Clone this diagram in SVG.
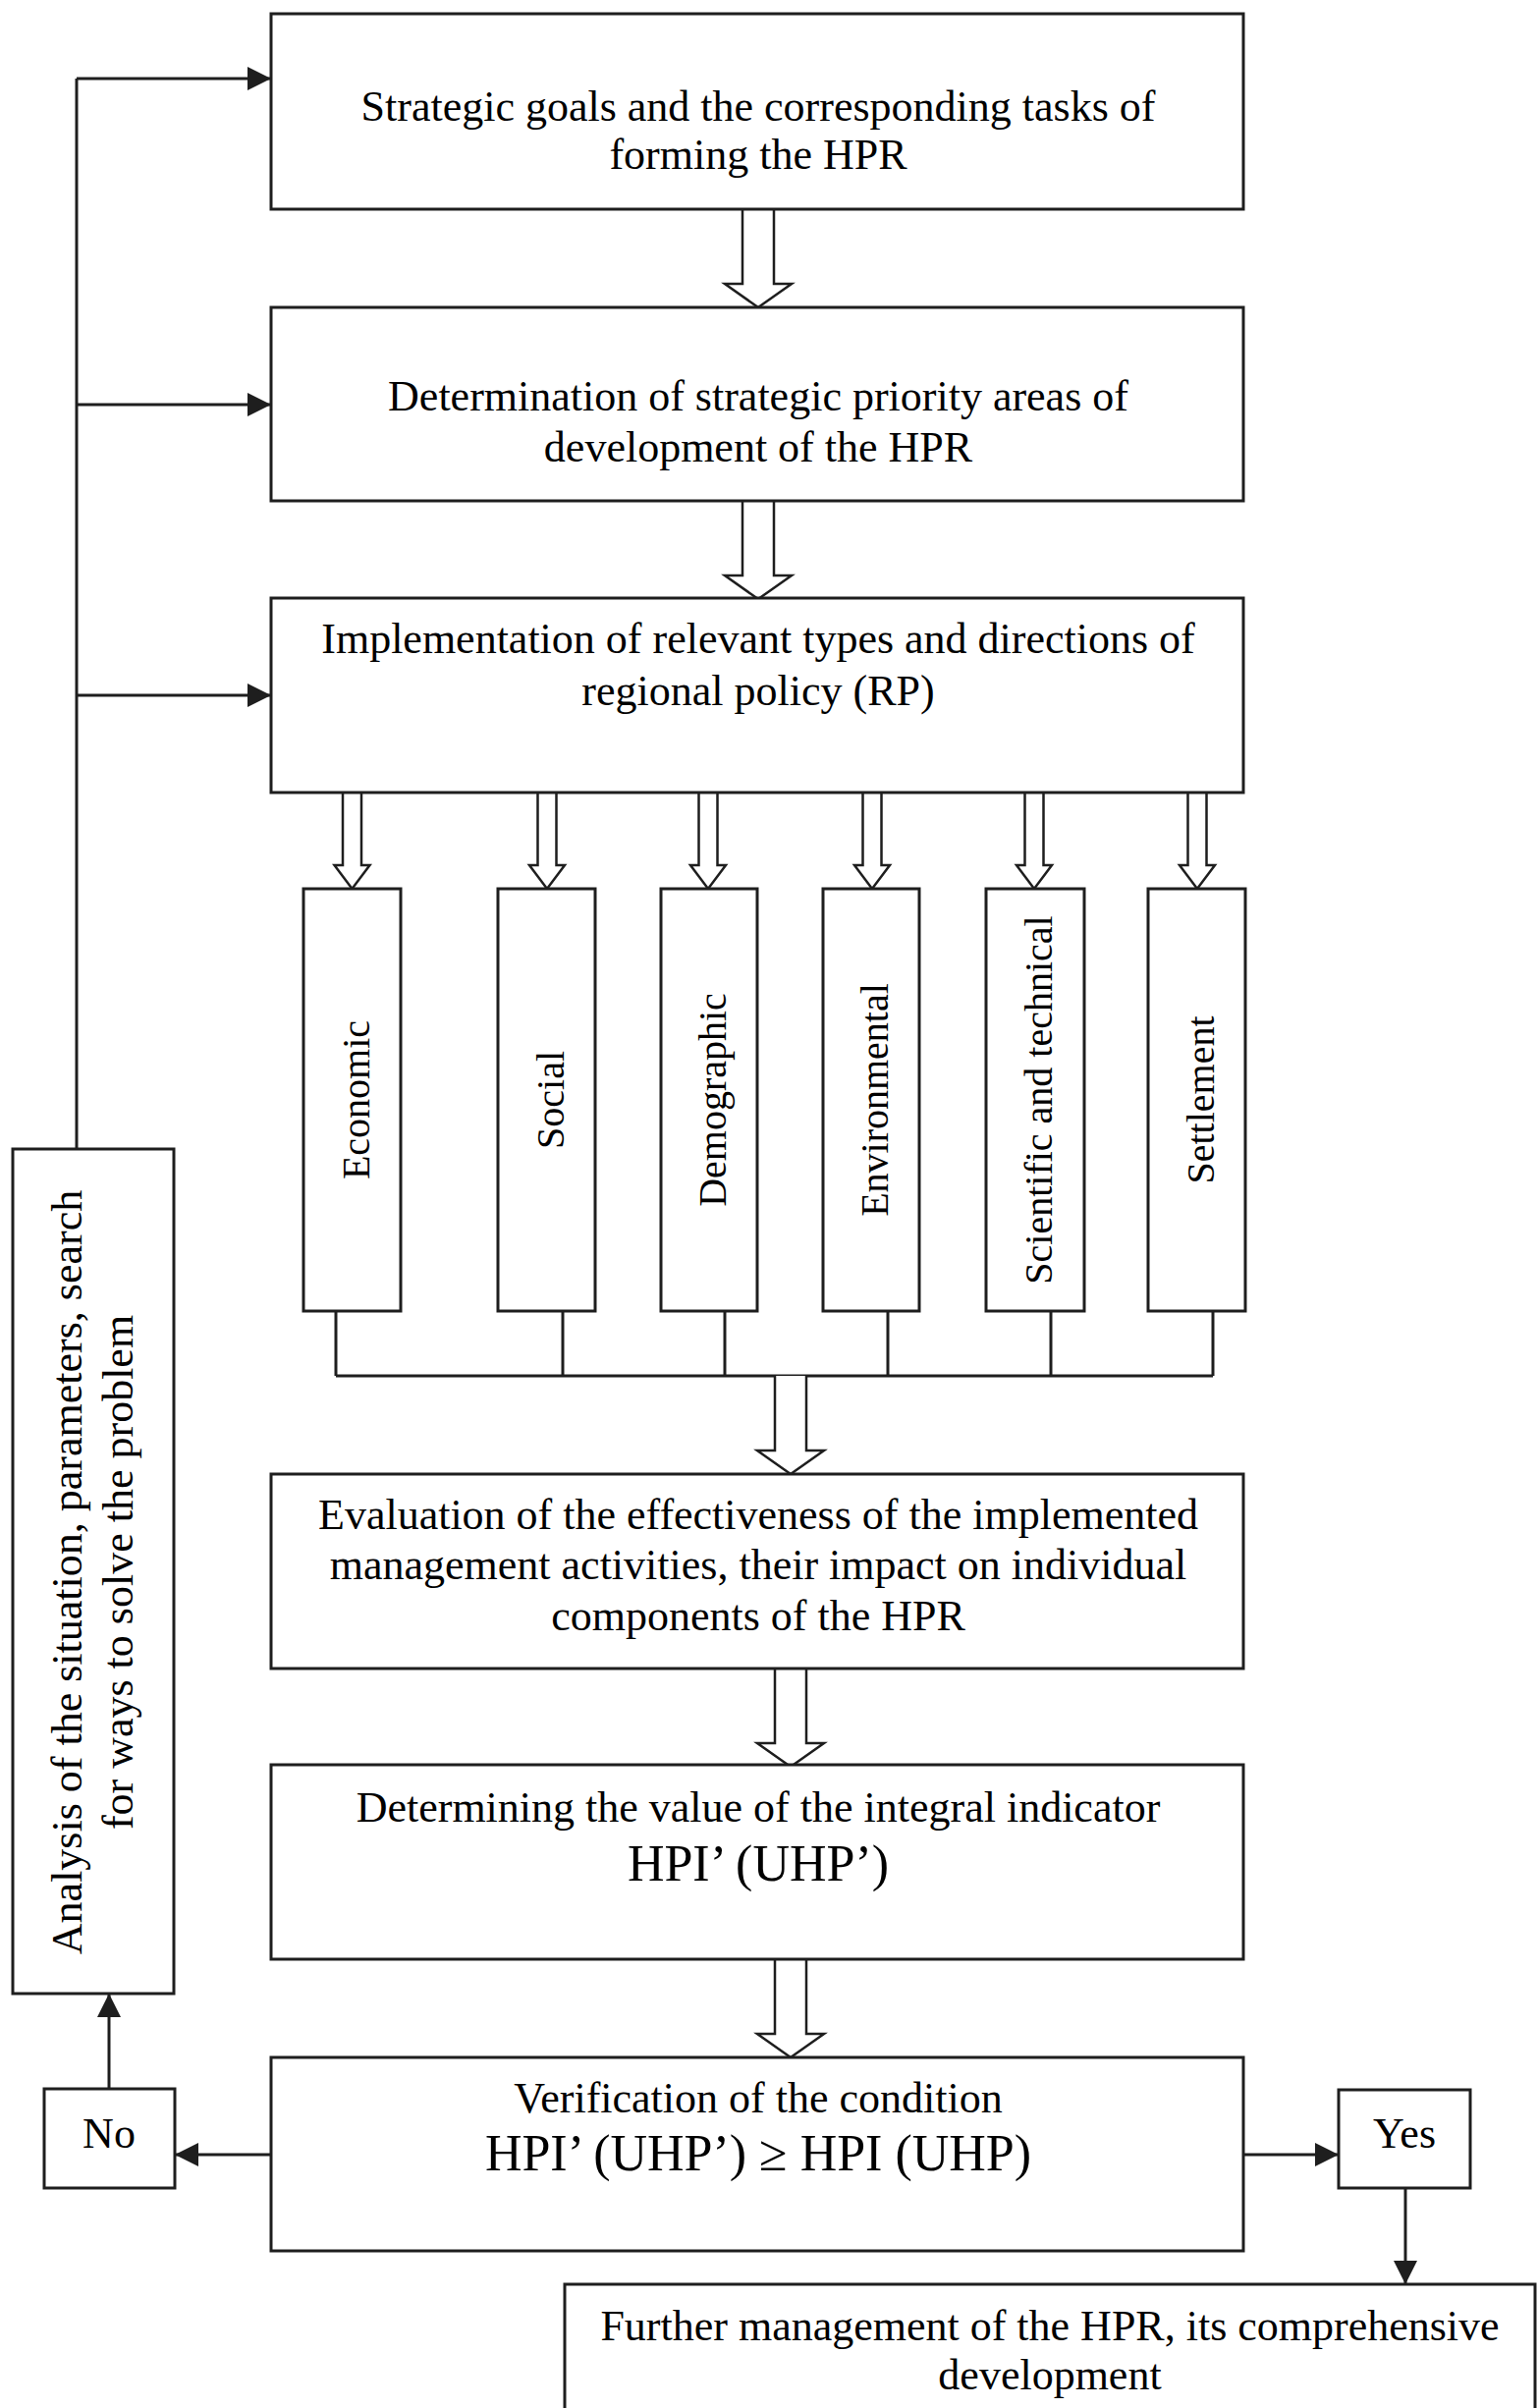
<svg xmlns="http://www.w3.org/2000/svg" xmlns:xlink="http://www.w3.org/1999/xlink" width="1566" height="2452" viewBox="0 0 1566 2452">
<style>
  .box { fill: #ffffff; stroke: #1e1e1e; stroke-width: 3; }
  .line { fill: none; stroke: #1e1e1e; stroke-width: 3; }
  .hollow { fill: #ffffff; stroke: #1e1e1e; stroke-width: 2.5; stroke-linejoin: miter; }
  .t { font-family: "Liberation Serif", "Times New Roman", serif; font-size: 44px; fill: #000; text-anchor: middle; }
  .tv { font-family: "Liberation Serif", "Times New Roman", serif; font-size: 40px; fill: #000; text-anchor: middle; }
  .big { font-size: 52px; }
</style>
<defs>
  <marker id="ah" markerUnits="userSpaceOnUse" markerWidth="24" markerHeight="24" viewBox="0 0 24 24" refX="24" refY="12" orient="auto">
    <path d="M0,0 L24,12 L0,24 z" fill="#1e1e1e"/>
  </marker>
  <path id="hbig" d="M-16,0 L-16,76 L-34,76 L0,100 L34,76 L16,76 L16,0"/>
  <path id="hsmall" d="M-9.5,0 L-9.5,74 L-18,74 L0,98 L18,74 L9.5,74 L9.5,0"/>
</defs>

<g id="connectors">
  <!-- feedback loop -->
  <polyline class="line" points="78,1170 78,80"/>
  <line class="line" x1="78" y1="80" x2="276" y2="80" marker-end="url(#ah)"/>
  <line class="line" x1="78" y1="412" x2="276" y2="412" marker-end="url(#ah)"/>
  <line class="line" x1="78" y1="708" x2="276" y2="708" marker-end="url(#ah)"/>
  <!-- hollow arrows main chain -->
  <use xlink:href="#hbig" class="hollow" transform="translate(772,213)"/>
  <use xlink:href="#hbig" class="hollow" transform="translate(772,510)"/>
  <!-- hollow arrows to policy types -->
  <use xlink:href="#hsmall" class="hollow" transform="translate(358.5,807)"/>
  <use xlink:href="#hsmall" class="hollow" transform="translate(557,807)"/>
  <use xlink:href="#hsmall" class="hollow" transform="translate(721,807)"/>
  <use xlink:href="#hsmall" class="hollow" transform="translate(888,807)"/>
  <use xlink:href="#hsmall" class="hollow" transform="translate(1053,807)"/>
  <use xlink:href="#hsmall" class="hollow" transform="translate(1219,807)"/>
  <!-- collector lines -->
  <line class="line" x1="342" y1="1335" x2="342" y2="1401"/>
  <line class="line" x1="573" y1="1335" x2="573" y2="1401"/>
  <line class="line" x1="738" y1="1335" x2="738" y2="1401"/>
  <line class="line" x1="904" y1="1335" x2="904" y2="1401"/>
  <line class="line" x1="1070" y1="1335" x2="1070" y2="1401"/>
  <line class="line" x1="1235" y1="1335" x2="1235" y2="1401"/>
  <line class="line" x1="342" y1="1401" x2="1235" y2="1401"/>
  <use xlink:href="#hbig" class="hollow" transform="translate(805,1401)"/>
  <use xlink:href="#hbig" class="hollow" transform="translate(805,1699)"/>
  <use xlink:href="#hbig" class="hollow" transform="translate(805,1995)"/>
  <!-- decision arrows -->
  <line class="line" x1="276" y1="2194" x2="178" y2="2194" marker-end="url(#ah)"/>
  <line class="line" x1="111" y1="2127" x2="111" y2="2030" marker-end="url(#ah)"/>
  <line class="line" x1="1266" y1="2194" x2="1363" y2="2194" marker-end="url(#ah)"/>
  <line class="line" x1="1431" y1="2228" x2="1431" y2="2326" marker-end="url(#ah)"/>
</g>

<g id="goals">
  <rect class="box" x="276" y="14" width="990" height="199"/>
  <text class="t" x="772" y="123">Strategic goals and the corresponding tasks of</text>
  <text class="t" x="772" y="172">forming the HPR</text>
</g>
<g id="priorities">
  <rect class="box" x="276" y="313" width="990" height="197"/>
  <text class="t" x="772" y="418">Determination of strategic priority areas of</text>
  <text class="t" x="772" y="470">development of the HPR</text>
</g>
<g id="implementation">
  <rect class="box" x="276" y="609" width="990" height="198"/>
  <text class="t" x="772" y="665">Implementation of relevant types and directions of</text>
  <text class="t" x="772" y="718">regional policy (RP)</text>
</g>

<g id="economic">
  <rect class="box" x="309" y="905" width="99" height="430"/>
  <text class="tv" transform="translate(376,1120) rotate(-90)">Economic</text>
</g>
<g id="social">
  <rect class="box" x="507" y="905" width="99" height="430"/>
  <text class="tv" transform="translate(574,1120) rotate(-90)">Social</text>
</g>
<g id="demographic">
  <rect class="box" x="673" y="905" width="98" height="430"/>
  <text class="tv" transform="translate(739,1120) rotate(-90)">Demographic</text>
</g>
<g id="environmental">
  <rect class="box" x="838" y="905" width="98" height="430"/>
  <text class="tv" transform="translate(904,1120) rotate(-90)">Environmental</text>
</g>
<g id="scientific">
  <rect class="box" x="1004" y="905" width="100" height="430"/>
  <text class="tv" transform="translate(1071,1120) rotate(-90)">Scientific and technical</text>
</g>
<g id="settlement">
  <rect class="box" x="1169" y="905" width="99" height="430"/>
  <text class="tv" transform="translate(1236,1120) rotate(-90)">Settlement</text>
</g>

<g id="evaluation">
  <rect class="box" x="276" y="1501" width="990" height="198"/>
  <text class="t" x="772" y="1557">Evaluation of the effectiveness of the implemented</text>
  <text class="t" x="772" y="1608">management activities, their impact on individual</text>
  <text class="t" x="772" y="1660">components of the HPR</text>
</g>
<g id="indicator">
  <rect class="box" x="276" y="1797" width="990" height="198"/>
  <text class="t" x="772" y="1855">Determining the value of the integral indicator</text>
  <text class="t big" x="772" y="1915">HPI’ (UHP’)</text>
</g>
<g id="verification">
  <rect class="box" x="276" y="2095" width="990" height="197"/>
  <text class="t" x="772" y="2151">Verification of the condition</text>
  <text class="t big" x="772" y="2210">HPI’ (UHP’) ≥ HPI (UHP)</text>
</g>

<g id="analysis">
  <rect class="box" x="13" y="1170" width="164" height="860"/>
  <text class="t" transform="translate(83,1601) rotate(-90)">Analysis of the situation, parameters, search</text>
  <text class="t" transform="translate(135,1601) rotate(-90)">for ways to solve the problem</text>
</g>
<g id="no">
  <rect class="box" x="45" y="2127" width="133" height="101"/>
  <text class="t" x="111" y="2187">No</text>
</g>
<g id="yes">
  <rect class="box" x="1363" y="2128" width="134" height="100"/>
  <text class="t" x="1430" y="2187">Yes</text>
</g>
<g id="further">
  <rect class="box" x="575" y="2326" width="988" height="150"/>
  <text class="t" x="1069" y="2383">Further management of the HPR, its comprehensive</text>
  <text class="t" x="1069" y="2433">development</text>
</g>
</svg>
